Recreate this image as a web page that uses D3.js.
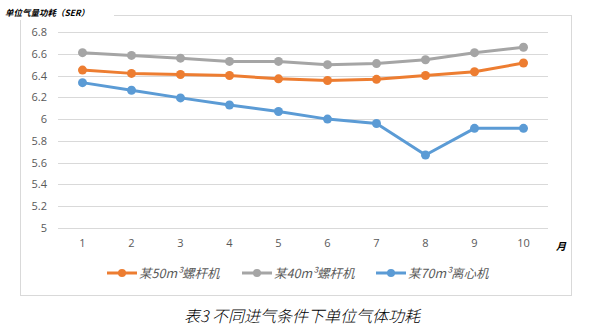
<!DOCTYPE html>
<html><head><meta charset="utf-8">
<script src="https://cdn.jsdelivr.net/npm/d3@7"></script>
<style>body{margin:0;background:#fff}svg{display:block}</style>
</head><body>
<script>
const months = ["1","2","3","4","5","6","7","8","9","10"];
const yTicks = [5,5.2,5.4,5.6,5.8,6,6.2,6.4,6.6,6.8];
const seriesNames = ["某50m³螺杆机","某40m³螺杆机","某70m³离心机"];
const s50 = [6.45,6.42,6.41,6.40,6.37,6.355,6.365,6.40,6.435,6.515];
const s40 = [6.61,6.585,6.56,6.53,6.53,6.50,6.51,6.545,6.61,6.66];
const s70 = [6.335,6.265,6.195,6.13,6.07,6.00,5.96,5.67,5.915,5.915];
const colors = ["#ED7D31","#A5A5A5","#5B9BD5"];

const W=590,H=328;
const svg=d3.select("body").append("svg").attr("width",W).attr("height",H);
const font="'Microsoft YaHei','Noto Sans CJK SC','DejaVu Sans',sans-serif";

// frame
svg.append("rect").attr("x",20.5).attr("y",15.5).attr("width",551).attr("height",280)
  .attr("fill","none").attr("stroke","#d9d9d9");
// title bg + title
svg.append("rect").attr("x",2).attr("y",5).attr("width",112).attr("height",15).attr("fill","#fff");
svg.append("text").attr("x",5).attr("y",16).text("单位气量功耗（SER）")
  .attr("font-family",font).attr("font-size",8.5).attr("font-weight","bold").attr("font-style","italic").attr("fill","#000");

const x=d3.scaleBand().domain(months).range([58,548]);
const y=d3.scaleLinear().domain([5,6.8]).range([228,32]);

// grid
svg.append("g").selectAll("line").data(yTicks).join("line")
  .attr("x1",58).attr("x2",548).attr("y1",d=>Math.round(y(d))+0.5).attr("y2",d=>Math.round(y(d))+0.5)
  .attr("stroke","#d9d9d9").attr("stroke-width",1);

// y labels
const yAxis=d3.axisLeft(y).tickValues(yTicks).tickSize(0).tickPadding(0).tickFormat(d3.format("~g"));
const ga=svg.append("g").attr("transform","translate(47,0)").call(yAxis);
ga.select(".domain").remove();
ga.selectAll("text").attr("font-family","'Open Sans','DejaVu Sans',sans-serif").attr("font-size",11).attr("fill","#595959");

// x labels
const xAxis=d3.axisBottom(x).tickSize(0).tickPadding(0);
const gx=svg.append("g").attr("transform","translate(0,239)").call(xAxis);
gx.select(".domain").remove();
gx.selectAll("text").attr("font-family","'Open Sans','DejaVu Sans',sans-serif").attr("font-size",11).attr("fill","#595959");
svg.append("text").attr("x",556).attr("y",250).text("月").attr("font-family",font)
  .attr("font-size",10).attr("font-style","italic").attr("font-weight","bold").attr("fill","#000");

// lines
const all=[s50,s40,s70];
const line=d3.line().x((d,i)=>x(months[i])+x.bandwidth()/2).y(d=>y(d));
all.forEach((s,k)=>{
  svg.append("path").datum(s).attr("d",line).attr("fill","none").attr("stroke",colors[k])
    .attr("stroke-width",3).attr("stroke-linejoin","round");
  svg.append("g").selectAll("circle").data(s).join("circle")
    .attr("cx",(d,i)=>x(months[i])+x.bandwidth()/2).attr("cy",d=>y(d)).attr("r",4.5).attr("fill",colors[k]);
});

// legend
const lx=[107,242,376];
seriesNames.forEach((n,k)=>{
  const g=svg.append("g").attr("transform",`translate(${lx[k]},273)`);
  g.append("line").attr("x1",0).attr("x2",30).attr("stroke",colors[k]).attr("stroke-width",3);
  g.append("circle").attr("cx",15).attr("r",4).attr("fill",colors[k]);
  g.append("text").attr("x",32).attr("y",4.5).text(n).attr("font-family",font).attr("font-size",12.5)
    .attr("font-style","italic").attr("fill","#595959");
});

// caption
svg.append("text").attr("x",302).attr("y",322).attr("text-anchor","middle").text("表3 不同进气条件下单位气体功耗")
  .attr("font-family",font).attr("font-size",16).attr("font-weight",300).attr("font-style","italic").attr("fill","#000");
</script>
</body></html>
